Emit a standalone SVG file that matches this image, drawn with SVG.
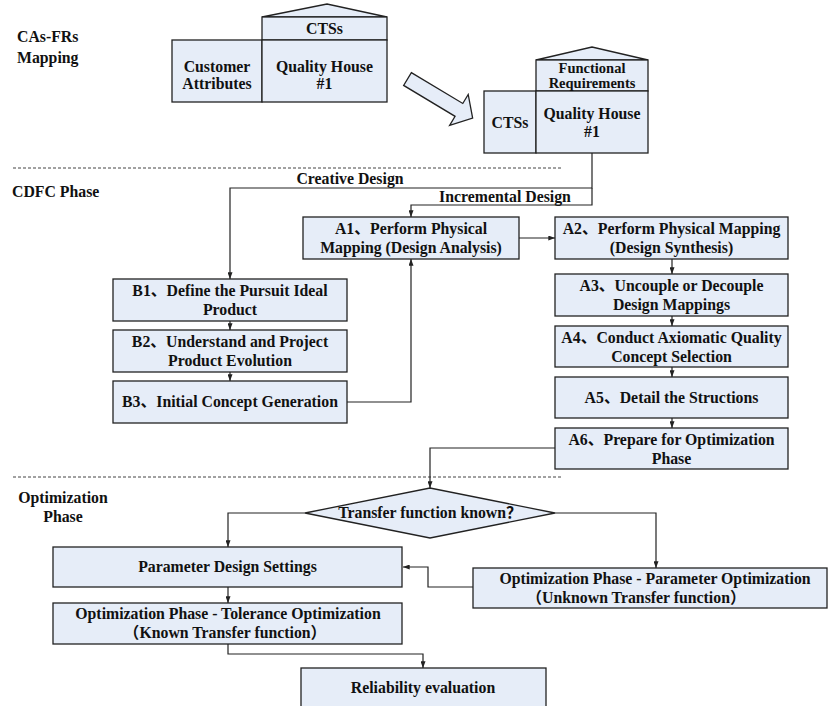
<svg xmlns="http://www.w3.org/2000/svg" width="829" height="706" viewBox="0 0 829 706">
<defs>
<marker id="ah" viewBox="0 0 8 6" refX="8" refY="3" markerWidth="7" markerHeight="5" orient="auto" markerUnits="userSpaceOnUse"><path d="M0,0 L8,3 L0,6 Z" fill="#222"/></marker>
<style>
.b{fill:#e6edf8;stroke:#222;stroke-width:1.3}
text{font-family:'Liberation Serif','Times New Roman',Tinos,'DejaVu Serif','Noto Sans CJK SC',serif;font-weight:bold;font-size:15.8px;fill:#111}
.t{text-anchor:middle}
.c{fill:none;stroke:#222;stroke-width:1.2}
.d{fill:none;stroke:#444;stroke-width:1;stroke-dasharray:3,2}
</style>
</defs>
<rect width="829" height="706" fill="#fff"/>
<g id="labels">
<text x="17" y="42">CAs-FRs</text>
<text x="17" y="63">Mapping</text>
<text x="12" y="197">CDFC Phase</text>
<text class="t" x="63" y="503">Optimization</text>
<text class="t" x="63" y="522">Phase</text>
<line class="d" x1="13" y1="168" x2="562" y2="168"/>
<line class="d" x1="13" y1="477" x2="562" y2="477"/>
<text class="t" x="350" y="184">Creative Design</text>
<text class="t" x="505" y="202">Incremental Design</text>
</g>
<g id="house1">
<polygon class="b" points="262,17 327,4 387,17"/>
<rect class="b" x="262" y="17" width="125" height="23"/>
<rect class="b" x="172" y="40" width="90" height="62"/>
<rect class="b" x="262" y="40" width="125" height="62"/>
<text class="t" x="324.5" y="34">CTSs</text>
<text class="t" x="217" y="72">Customer</text>
<text class="t" x="217" y="89">Attributes</text>
<text class="t" x="324.5" y="72">Quality House</text>
<text class="t" x="324.5" y="89">#1</text>
</g>
<g id="bigArrow" transform="translate(407.5,79) rotate(31)">
<polygon class="b" points="0,-7.5 60,-7.5 60,-18 76,0 60,18 60,7.5 0,7.5"/>
</g>
<g id="house2">
<polygon class="b" points="536,60 592,47 648,60"/>
<rect class="b" x="536" y="60" width="112" height="31"/>
<rect class="b" x="484" y="91" width="52" height="62"/>
<rect class="b" x="536" y="91" width="112" height="62"/>
<text class="t" x="592" y="73" style="font-size:14.5px">Functional</text>
<text class="t" x="592" y="88" style="font-size:14.5px">Requirements</text>
<text class="t" x="510" y="128">CTSs</text>
<text class="t" x="592" y="119">Quality House</text>
<text class="t" x="592" y="137">#1</text>
</g>
<g id="A1"><rect class="b" x="303" y="217" width="216" height="42"/>
<text class="t" x="411" y="234">A1、Perform Physical</text>
<text class="t" x="411" y="253">Mapping (Design Analysis)</text></g>
<g id="A2"><rect class="b" x="555" y="217" width="233" height="42"/>
<text class="t" x="671.5" y="234">A2、Perform Physical Mapping</text>
<text class="t" x="671.5" y="253">(Design Synthesis)</text></g>
<g id="A3"><rect class="b" x="555" y="274" width="233" height="42"/>
<text class="t" x="671.5" y="291">A3、Uncouple or Decouple</text>
<text class="t" x="671.5" y="310">Design Mappings</text></g>
<g id="A4"><rect class="b" x="555" y="326" width="233" height="41"/>
<text class="t" x="671.5" y="343">A4、Conduct Axiomatic Quality</text>
<text class="t" x="671.5" y="362">Concept Selection</text></g>
<g id="A5"><rect class="b" x="555" y="377" width="233" height="41"/>
<text class="t" x="671.5" y="403">A5、Detail the Structions</text></g>
<g id="A6"><rect class="b" x="555" y="428" width="233" height="41"/>
<text class="t" x="671.5" y="445">A6、Prepare for Optimization</text>
<text class="t" x="671.5" y="464">Phase</text></g>
<g id="B1"><rect class="b" x="113" y="279" width="234" height="42"/>
<text class="t" x="230" y="296">B1、Define the Pursuit Ideal</text>
<text class="t" x="230" y="315">Product</text></g>
<g id="B2"><rect class="b" x="113" y="330" width="234" height="42"/>
<text class="t" x="230" y="347">B2、Understand and Project</text>
<text class="t" x="230" y="366">Product Evolution</text></g>
<g id="B3"><rect class="b" x="113" y="381" width="234" height="42"/>
<text class="t" x="230" y="407">B3、Initial Concept Generation</text></g>
<g id="decision"><polygon class="b" points="305,513 430,488 555,513 430,538"/>
<text class="t" x="430" y="518">Transfer function known？</text></g>
<g id="PDS"><rect class="b" x="53" y="547" width="349" height="40"/>
<text class="t" x="227.5" y="572">Parameter Design Settings</text></g>
<g id="POpt"><rect class="b" x="473" y="568" width="354" height="40"/>
<text class="t" x="655" y="584">Optimization Phase - Parameter Optimization</text>
<text class="t" x="636" y="603">（Unknown Transfer function）</text></g>
<g id="TOpt"><rect class="b" x="53" y="603" width="349" height="41"/>
<text class="t" x="228" y="619">Optimization Phase - Tolerance Optimization</text>
<text class="t" x="225" y="638">（Known Transfer function）</text></g>
<g id="REL"><rect class="b" x="301" y="668" width="245" height="48"/>
<text class="t" x="423" y="693">Reliability evaluation</text></g>
<g id="connectors">
<path class="c" d="M592,153 V188 H230 V279" marker-end="url(#ah)"/>
<path class="c" d="M592,188 V205 H411 V217" marker-end="url(#ah)"/>
<path class="c" d="M519,238 H555" marker-end="url(#ah)"/>
<path class="c" d="M672,259 V274" marker-end="url(#ah)"/>
<path class="c" d="M672,316 V326" marker-end="url(#ah)"/>
<path class="c" d="M672,367 V377" marker-end="url(#ah)"/>
<path class="c" d="M672,418 V428" marker-end="url(#ah)"/>
<path class="c" d="M230,321 V330" marker-end="url(#ah)"/>
<path class="c" d="M230,372 V381" marker-end="url(#ah)"/>
<path class="c" d="M347,402 H411 V259" marker-end="url(#ah)"/>
<path class="c" d="M555,448 H430 V488" marker-end="url(#ah)"/>
<path class="c" d="M305,513 H228 V547" marker-end="url(#ah)"/>
<path class="c" d="M555,513 H656 V568" marker-end="url(#ah)"/>
<path class="c" d="M473,587 H428 V567 H403" marker-end="url(#ah)"/>
<path class="c" d="M228,587 V603" marker-end="url(#ah)"/>
<path class="c" d="M228,644 V654 H423 V668" marker-end="url(#ah)"/>
</g>
</svg>
